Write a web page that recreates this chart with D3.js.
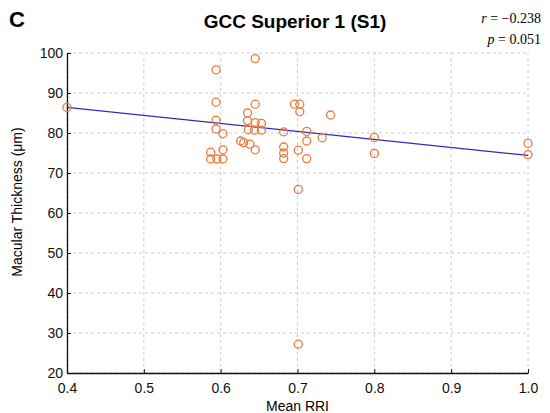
<!DOCTYPE html>
<html>
<head>
<meta charset="utf-8">
<script src="https://d3js.org/d3.v7.min.js"></script>
<style>
body { margin: 0; background: #fff; }
svg { display: block; font-family: "Liberation Sans", Arial, sans-serif; }
</style>
</head>
<body>
<svg id="chart" width="550" height="413"></svg>
<script>
(function () {
// values
var rri = [0.400, 0.587, 0.587, 0.595, 0.603, 0.603, 0.594, 0.594, 0.594, 0.594,
    0.603, 0.626, 0.630, 0.635, 0.635, 0.636, 0.638, 0.645, 0.645, 0.645,
    0.644, 0.645, 0.653, 0.653, 0.682, 0.682, 0.682, 0.682, 0.696, 0.703,
    0.703, 0.701, 0.701, 0.701, 0.712, 0.712, 0.712, 0.732, 0.743, 0.800,
    0.800, 1.000, 1.000]
var thickness = [86.4, 75.2, 73.5, 73.5, 73.5, 75.8, 95.8, 87.7, 83.2, 81.0,
    79.8, 78.0, 77.6, 85.0, 83.1, 80.8, 77.2, 98.6, 87.2, 82.6,
    80.7, 75.8, 82.4, 80.7, 80.3, 76.5, 75.0, 73.6, 87.2, 87.2,
    85.3, 75.7, 65.9, 27.2, 80.4, 78.0, 73.6, 78.8, 84.5, 78.9,
    74.9, 77.4, 74.6]
var fitX = [0.4, 1.0]
var fitY = [86.4, 74.4]
var xTicks = [0.4, 0.5, 0.6, 0.7, 0.8, 0.9, 1.0]
var yTicks = [20, 30, 40, 50, 60, 70, 80, 90, 100]

var margin = {left: 67, right: 22, top: 53, bottom: 40}
var W = 550, H = 413
var svg = d3.select('#chart')

var x = d3.scaleLinear().domain([0.4, 1.0]).range([margin.left, W - margin.right])
var y = d3.scaleLinear().domain([20, 100]).range([H - margin.bottom, margin.top])

// dashed grid
svg.append('g')
    .selectAll('line')
    .data(xTicks)
    .enter()
    .append('line')
    .attr('x1', d => x(d)).attr('x2', d => x(d))
    .attr('y1', y(20)).attr('y2', y(100))
    .attr('stroke', '#cccccc')
    .attr('stroke-dasharray', '3,3')
svg.append('g')
    .selectAll('line')
    .data(yTicks)
    .enter()
    .append('line')
    .attr('y1', d => y(d)).attr('y2', d => y(d))
    .attr('x1', x(0.4)).attr('x2', x(1.0))
    .attr('stroke', '#cccccc')
    .attr('stroke-dasharray', '3,3')

// axes, ticks point inward
var xAxis = svg.append('g')
    .attr('transform', 'translate(0,' + y(20) + ')')
    .call(d3.axisBottom(x).tickValues(xTicks).tickFormat(d3.format('.1f')).tickSizeInner(-4).tickSizeOuter(0).tickPadding(10))
var yAxis = svg.append('g')
    .attr('transform', 'translate(' + x(0.4) + ',0)')
    .call(d3.axisLeft(y).tickValues(yTicks).tickSizeInner(-4).tickSizeOuter(0).tickPadding(4))
;[xAxis, yAxis].forEach(function (a) {
    a.selectAll('text').attr('font-size', 14).attr('fill', '#111').attr('font-family', '"Liberation Sans", Arial, sans-serif')
    a.select('.domain').attr('stroke', '#111').attr('stroke-width', 1.3)
    a.selectAll('.tick line').attr('stroke', '#111')
})

// regression line
svg.append('line')
    .attr('x1', x(fitX[0])).attr('y1', y(fitY[0]))
    .attr('x2', x(fitX[1])).attr('y2', y(fitY[1]))
    .attr('stroke', '#2b2bc8')
    .attr('stroke-width', 1.2)

// points
svg.append('g')
    .selectAll('circle')
    .data(rri)
    .enter()
    .append('circle')
    .attr('cx', d => x(d))
    .attr('cy', (d, i) => y(thickness[i]))
    .attr('r', 4)
    .attr('fill', 'none')
    .attr('stroke', '#ec7a3c')
    .attr('stroke-width', 1.3)

// labels
svg.append('text')
    .attr('x', (x(0.4) + x(1.0)) / 2).attr('y', 411)
    .attr('text-anchor', 'middle')
    .attr('font-size', 14)
    .text('Mean RRI')
svg.append('text')
    .attr('transform', 'translate(22,202) rotate(-90)')
    .attr('text-anchor', 'middle')
    .attr('font-size', 14)
    .text('Macular Thickness (\u03bcm)')
svg.append('text')
    .attr('x', 295).attr('y', 28)
    .attr('text-anchor', 'middle')
    .attr('font-size', 19)
    .attr('font-weight', 'bold')
    .text('GCC Superior 1 (S1)')
svg.append('text')
    .attr('x', 9).attr('y', 27)
    .attr('font-size', 22)
    .attr('font-weight', 'bold')
    .text('C')

var stats = svg.append('g')
    .attr('font-family', '"Liberation Serif", "Times New Roman", serif')
    .attr('font-size', 14)
    .attr('text-anchor', 'end')
var r = stats.append('text').attr('x', 541).attr('y', 23)
r.append('tspan').attr('font-style', 'italic').text('r')
r.append('tspan').text(' = \u22120.238')
var p = stats.append('text').attr('x', 541).attr('y', 44)
p.append('tspan').attr('font-style', 'italic').text('p')
p.append('tspan').text(' = 0.051')
})();
</script>
</body>
</html>
